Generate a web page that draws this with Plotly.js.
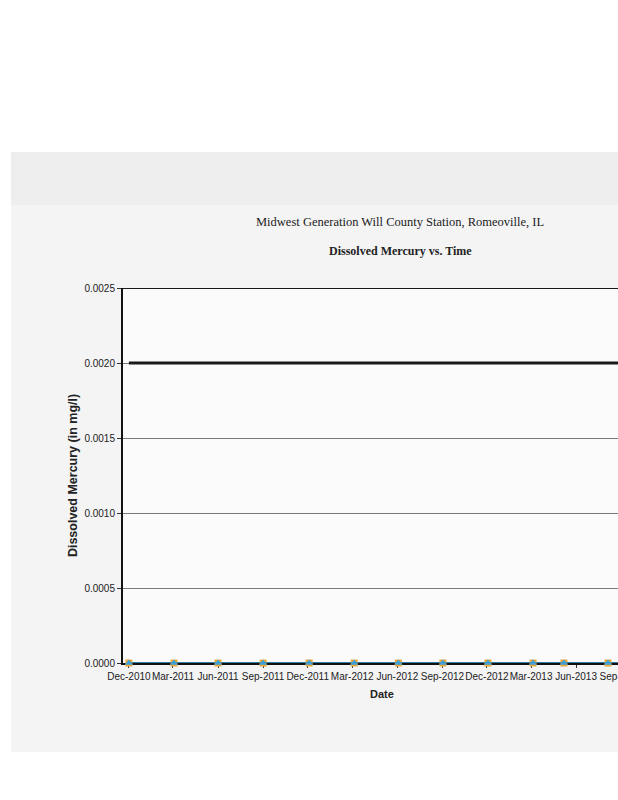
<!DOCTYPE html>
<html>
<head>
<meta charset="utf-8">
<script src="https://cdn.plot.ly/plotly-3.0.1.min.js"></script>
<style>
html,body{margin:0;padding:0;background:#fff;width:618px;height:800px;overflow:hidden;}
#chart{width:680px;height:800px;}
</style>
</head>
<body>
<div id="chart"></div>
<script>
// Quarterly date-axis ticks and their labels
var tickDates = ['2010-12-01','2011-03-01','2011-06-01','2011-09-01','2011-12-01','2012-03-01','2012-06-01','2012-09-01','2012-12-01','2013-03-01','2013-06-01','2013-09-01'];
var tickLabels = ['Dec-2010','Mar-2011','Jun-2011','Sep-2011','Dec-2011','Mar-2012','Jun-2012','Sep-2012','Dec-2012','Mar-2013','Jun-2013','Sep-2013'];
// Sampling dates (last one lies past the cropped edge)
var sampleDates = ['2010-12-01','2011-03-03','2011-06-01','2011-09-01','2011-12-04','2012-03-05','2012-06-03','2012-09-02','2012-12-03','2013-03-05','2013-05-07','2013-08-05','2013-11-05'];
// Dissolved mercury results (mg/l), all at/near zero
var seriesA = [0,0,0,0,0,0,0,0,0,0,0,0,0];
var seriesB = [0,0,0,0,0,0,0,0,0,0,0,0,0];
// Groundwater standard (mg/l)
var standard = [0.002,0.002,0.002,0.002,0.002,0.002,0.002,0.002,0.002,0.002,0.002,0.002,0.002];

// pixel helpers for the plot area (l=123, right=680, t=288, b=663)
var L = 123, R = 680, T = 288, B = 663;
function px(p){ return (p-L)/(R-L); }
function py(q){ return (B-q)/(B-T); }

var traces = [
  {x: sampleDates, y: standard, type:'scatter', mode:'lines', line:{color:'#1a1a1a', width:3}, name:'Standard', cliponaxis:false},
  {x: sampleDates, y: seriesA, type:'scatter', mode:'lines+markers', line:{color:'#1f3f6e', width:2}, marker:{symbol:'square', size:7, color:'#eaa83a', line:{width:0}}, name:'A', cliponaxis:false},
  {x: sampleDates, y: seriesB, type:'scatter', mode:'lines+markers', line:{color:'#3a8fb0', width:1.5}, marker:{symbol:'triangle-up', size:7, color:'#3d9ed8', line:{width:0}}, name:'B', cliponaxis:false}
];

var layout = {
  width: 680, height: 800,
  margin: {l:L, r:0, t:T, b:800-B, pad:0},
  paper_bgcolor: '#ffffff',
  plot_bgcolor: 'rgba(0,0,0,0)',
  showlegend: false,
  font: {family:'Liberation Sans, Arial, sans-serif', size:10, color:'#222'},
  xaxis: {
    type:'date',
    range:['2010-11-19','2013-12-30'],
    tickvals: tickDates,
    ticktext: tickLabels,
    tickangle: 0,
    ticks:'outside', ticklen:3, tickcolor:'#333',
    showgrid:false, zeroline:false,
    showline:true, linecolor:'#111', linewidth:1.5,
    layer:'below traces',
    tickfont:{family:'Liberation Sans, Arial, sans-serif', size:10, color:'#222'}
  },
  yaxis: {
    range:[0,0.0025],
    dtick:0.0005, tick0:0,
    tickformat:'.4f',
    ticks:'outside', ticklen:4, tickcolor:'#333',
    showgrid:true, gridcolor:'#7a7a7a', gridwidth:1,
    zeroline:false,
    showline:true, linecolor:'#111', linewidth:2,
    layer:'below traces',
    tickfont:{family:'Liberation Sans, Arial, sans-serif', size:10, color:'#222'},
    title:{text:'<b>Dissolved Mercury (in mg/l)</b>', font:{family:'Liberation Sans, Arial, sans-serif', size:12.5, color:'#222'}, standoff:4}
  },
  shapes: [
    {type:'rect', xref:'paper', yref:'paper', x0:px(11), x1:px(720), y0:py(752), y1:py(152), fillcolor:'#f4f4f5', line:{width:0}, layer:'below'},
    {type:'rect', xref:'paper', yref:'paper', x0:px(11), x1:px(720), y0:py(205), y1:py(152), fillcolor:'#eeeeee', line:{width:0}, layer:'below'},
    {type:'rect', xref:'paper', yref:'paper', x0:0, x1:1, y0:0, y1:1, fillcolor:'#fbfbfb', line:{width:0}, layer:'below'},
    {type:'line', xref:'paper', yref:'y', x0:0, x1:1, y0:0.0025, y1:0.0025, line:{color:'#1a1a1a', width:2}}
  ],
  annotations: [
    {xref:'paper', yref:'paper', x:px(400), y:py(222), xanchor:'center', yanchor:'middle', text:'Midwest Generation Will County Station, Romeoville, IL', showarrow:false, font:{family:'Liberation Serif, Times New Roman, serif', size:12.5, color:'#222'}},
    {xref:'paper', yref:'paper', x:px(400), y:py(251), xanchor:'center', yanchor:'middle', text:'<b>Dissolved Mercury vs. Time</b>', showarrow:false, font:{family:'Liberation Serif, Times New Roman, serif', size:12, color:'#222'}},
    {xref:'paper', yref:'paper', x:px(382), y:py(694), xanchor:'center', yanchor:'middle', text:'<b>Date</b>', showarrow:false, font:{family:'Liberation Sans, Arial, sans-serif', size:11, color:'#222'}}
  ]
};

Plotly.newPlot('chart', traces, layout, {staticPlot:true, displayModeBar:false});
</script>
</body>
</html>
